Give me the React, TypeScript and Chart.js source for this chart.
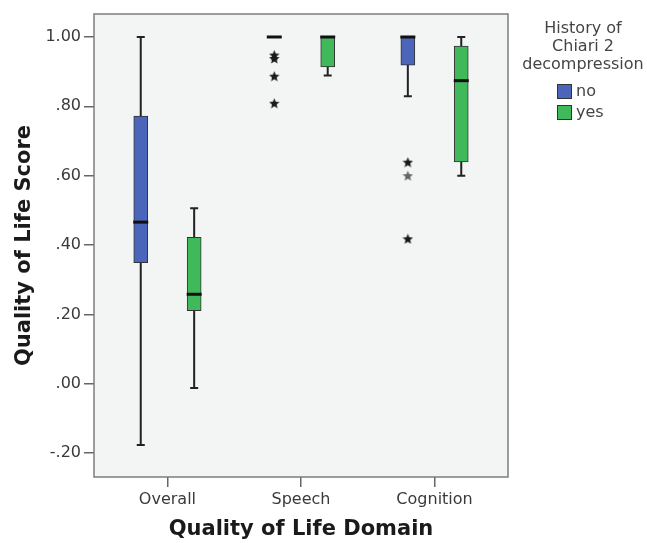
import React, { useEffect, useRef } from "react";
import { Chart, registerables } from "chart.js";

Chart.register(...registerables);

// ---- Data ----
const categories = ["Overall", "Speech", "Cognition"];
const groups = ["no", "yes"];
const legendTitle = ["History of", "Chiari 2", "decompression"];
const yTickValues = [-0.2, 0, 0.2, 0.4, 0.6, 0.8, 1.0];

const noMin = [-0.177, 1.0, 0.829];
const noQ1 = [0.349, 1.0, 0.919];
const noMedian = [0.466, 1.0, 1.0];
const noQ3 = [0.772, 1.0, 1.0];
const noMax = [1.0, 1.0, 1.0];
const noExtremes = [[], [0.948, 0.938, 0.887, 0.809], [0.639, 0.418]];
const noMild = [[], [], [0.6]];

const yesMin = [-0.012, 0.889, 0.6];
const yesQ1 = [0.211, 0.914, 0.64];
const yesMedian = [0.258, 1.0, 0.874];
const yesQ3 = [0.422, 1.0, 0.974];
const yesMax = [0.506, 1.0, 1.0];

const FONT = "'DejaVu Sans', sans-serif";
const BLUE = "#4a65b9";
const GREEN = "#40b95b";
const GROUP_OFFSET = 0.2;

function makeStar(color: string, size: number) {
  const c = document.createElement("canvas");
  c.width = size;
  c.height = size;
  const ctx = c.getContext("2d")!;
  const cx = size / 2, cy = size / 2 + 0.5;
  const R = size / 2, r = R * 0.45;
  ctx.beginPath();
  for (let i = 0; i < 10; i++) {
    const ang = -Math.PI / 2 + (i * Math.PI) / 5;
    const rad = i % 2 === 0 ? R : r;
    const x = cx + rad * Math.cos(ang);
    const y = cy + rad * Math.sin(ang);
    if (i === 0) ctx.moveTo(x, y);
    else ctx.lineTo(x, y);
  }
  ctx.closePath();
  ctx.fillStyle = color;
  ctx.fill();
  return c;
}

export default function App() {
  const ref = useRef<HTMLCanvasElement>(null);
  useEffect(() => {
    if (!ref.current) return;
    const stats = [
      { min: noMin, q1: noQ1, med: noMedian, q3: noQ3, max: noMax, off: -GROUP_OFFSET },
      { min: yesMin, q1: yesQ1, med: yesMedian, q3: yesQ3, max: yesMax, off: GROUP_OFFSET },
    ];
    const starDark = makeStar("#1a1a1a", 11);
    const starGrey = makeStar("#666666", 11);

    const boxPlugin = {
      id: "boxParts",
      beforeDatasetsDraw(chart: any) {
        const { ctx, chartArea: a } = chart;
        ctx.save();
        ctx.fillStyle = "#f3f4f4";
        ctx.fillRect(a.left, a.top, a.right - a.left, a.bottom - a.top);
        const xs = chart.scales.x, ys = chart.scales.y;
        ctx.strokeStyle = "#222";
        ctx.lineWidth = 2;
        stats.forEach((s) => {
          categories.forEach((_, i) => {
            const x = xs.getPixelForValue(i + s.off);
            const yMin = ys.getPixelForValue(s.min[i]);
            const yQ1 = ys.getPixelForValue(s.q1[i]);
            const yQ3 = ys.getPixelForValue(s.q3[i]);
            const yMax = ys.getPixelForValue(s.max[i]);
            ctx.beginPath();
            if (yMax < yQ3 - 0.5) {
              ctx.moveTo(x, yQ3);
              ctx.lineTo(x, yMax);
              ctx.moveTo(x - 4, yMax);
              ctx.lineTo(x + 4, yMax);
            }
            if (yMin > yQ1 + 0.5) {
              ctx.moveTo(x, yQ1);
              ctx.lineTo(x, yMin);
              ctx.moveTo(x - 4, yMin);
              ctx.lineTo(x + 4, yMin);
            }
            ctx.stroke();
          });
        });
        ctx.restore();
      },
      afterDatasetsDraw(chart: any) {
        const { ctx, chartArea: a } = chart;
        const xs = chart.scales.x, ys = chart.scales.y;
        ctx.save();
        ctx.strokeStyle = "#111";
        ctx.lineWidth = 3;
        stats.forEach((s) => {
          categories.forEach((_, i) => {
            const x = xs.getPixelForValue(i + s.off);
            const y = ys.getPixelForValue(s.med[i]);
            ctx.beginPath();
            ctx.moveTo(x - 7.5, y);
            ctx.lineTo(x + 7.5, y);
            ctx.stroke();
          });
        });
        // frame
        ctx.strokeStyle = "#7d7d7d";
        ctx.lineWidth = 1.5;
        ctx.strokeRect(a.left, a.top, a.right - a.left, a.bottom - a.top);
        ctx.restore();
      },
      afterDraw(chart: any) {
        const { ctx } = chart;
        ctx.save();
        ctx.fillStyle = "#444";
        ctx.font = `16px ${FONT}`;
        ctx.textAlign = "center";
        ctx.textBaseline = "middle";
        legendTitle.forEach((t, k) => ctx.fillText(t, 583, 29 + k * 18));
        groups.forEach((g, k) => {
          const ds = chart.data.datasets[k];
          const y = 84 + k * 21;
          ctx.fillStyle = ds.backgroundColor;
          ctx.fillRect(557, y, 15, 15);
          ctx.strokeStyle = "#333";
          ctx.lineWidth = 1;
          ctx.strokeRect(557.5, y + 0.5, 14, 14);
          ctx.fillStyle = "#444";
          ctx.textAlign = "left";
          ctx.fillText(g, 576, y + 8);
        });
        ctx.restore();
      },
    };

    const boxDatasets = stats.map((s, k) => ({
      type: "bar" as const,
      label: groups[k],
      data: categories.map((_, i) => ({ x: i + s.off, y: [s.q1[i], s.q3[i]] })),
      backgroundColor: k === 0 ? BLUE : GREEN,
      borderColor: "#333",
      borderWidth: 1,
      borderSkipped: false,
      barThickness: 14,
      grouped: false,
      order: 2,
    }));

    const outlierPts = (arr: number[][], off: number) =>
      arr.flatMap((vals, i) => vals.map((v) => ({ x: i + off, y: v })));

    const chart = new Chart(ref.current, {
      type: "bar",
      data: {
        datasets: [
          ...boxDatasets,
          {
            type: "scatter" as const,
            label: "extreme",
            data: outlierPts(noExtremes, -GROUP_OFFSET),
            pointStyle: starDark,
            order: 1,
          },
          {
            type: "scatter" as const,
            label: "mild",
            data: outlierPts(noMild, -GROUP_OFFSET),
            pointStyle: starGrey,
            order: 1,
          },
        ] as any,
      },
      options: {
        responsive: false,
        animation: false,
        layout: { padding: { left: 0, top: 14, right: 139, bottom: 0 } },
        plugins: { legend: { display: false }, tooltip: { enabled: false } },
        scales: {
          x: {
            type: "linear",
            min: -0.55,
            max: 2.55,
            offset: false,
            afterFit: (s: any) => { s.height = 66; },
            afterBuildTicks: (s: any) => { s.ticks = categories.map((_, i) => ({ value: i })); },
            grid: { offset: false, drawOnChartArea: false, drawTicks: true, tickLength: 10, color: "#666", lineWidth: 1.5 },
            border: { display: false },
            ticks: {
              padding: 3,
              color: "#3a3a3a",
              font: { family: FONT, size: 16 },
              callback: (v: any) => (Number.isInteger(v) ? categories[v] : ""),
            },
            title: {
              display: true,
              text: "Quality of Life Domain",
              color: "#1a1a1a",
              font: { family: FONT, size: 21, weight: "bold" },
              padding: { top: 0, bottom: 1 },
            },
          },
          y: {
            type: "linear",
            min: -0.269,
            max: 1.0663,
            afterFit: (s: any) => { s.width = 94; },
            afterBuildTicks: (s: any) => { s.ticks = yTickValues.map((v) => ({ value: v })); },
            grid: { drawOnChartArea: false, drawTicks: true, tickLength: 10, color: "#666", lineWidth: 1.5 },
            border: { display: false },
            ticks: {
              padding: 3,
              color: "#3a3a3a",
              font: { family: FONT, size: 16 },
              callback: (v: any) => {
                const n = Number(v);
                if (Math.abs(n) < 1e-9) return ".00";
                const s = n.toFixed(2);
                return Math.abs(n) < 1 ? s.replace("0.", ".") : s;
              },
            },
            title: {
              display: true,
              text: "Quality of Life Score",
              color: "#1a1a1a",
              font: { family: FONT, size: 21, weight: "bold" },
              padding: { top: 12, bottom: 0 },
            },
          },
        },
      } as any,
      plugins: [boxPlugin],
    });
    return () => chart.destroy();
  }, []);

  return (
    <div style={{ position: "absolute", left: 0, top: 0, width: 647, height: 543, background: "#fff" }}>
      <canvas ref={ref} width={647} height={543} />
    </div>
  );
}
